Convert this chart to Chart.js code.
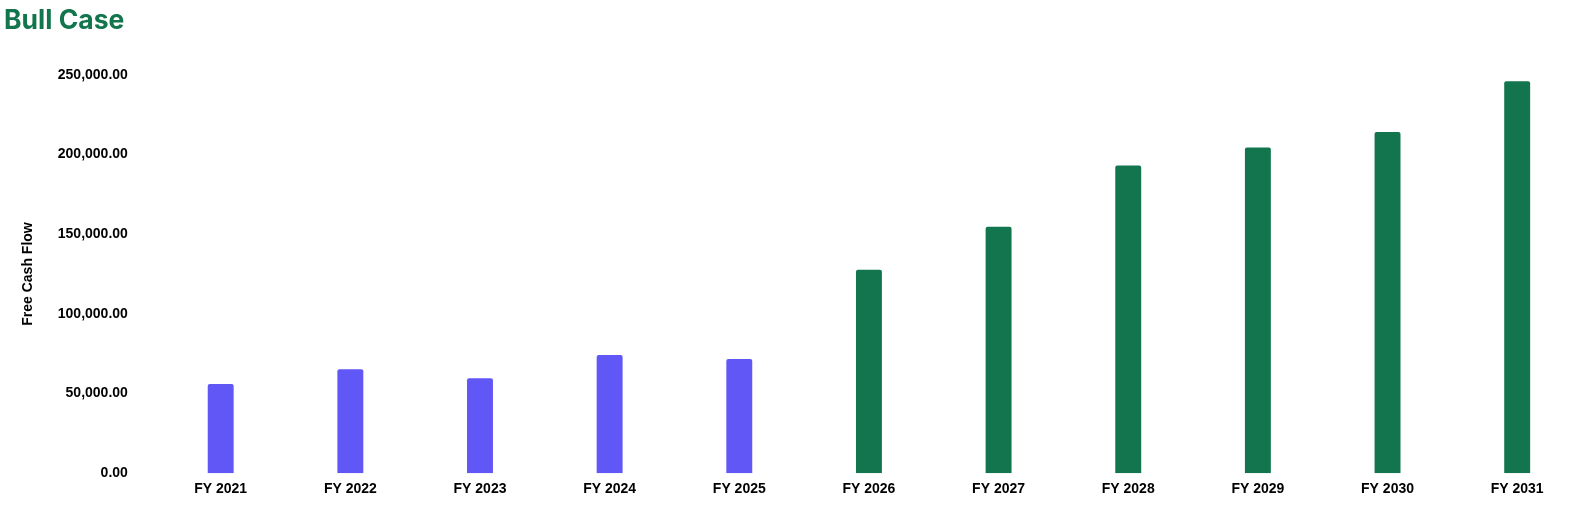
<!DOCTYPE html>
<html>
<head>
<meta charset="utf-8">
<script src="https://cdn.jsdelivr.net/npm/chart.js@4"></script>
<style>
  html, body { margin: 0; padding: 0; background: #fff; }
  #wrap { width: 1591px; height: 512px; }
</style>
</head>
<body>
<div id="wrap"><canvas id="myChart"></canvas></div>
<script>
const years = ['FY 2021', 'FY 2022', 'FY 2023', 'FY 2024', 'FY 2025', 'FY 2026', 'FY 2027', 'FY 2028', 'FY 2029', 'FY 2030', 'FY 2031'];
const freeCashFlow = [56000, 65300, 59600, 74100, 71600, 127600, 154700, 193100, 204400, 214100, 246000];
const historicCount = 5; // first 5 years are actuals, rest projected
const purple = '#6157f6';
const green = '#13754e';

const barColors = freeCashFlow.map((v, i) => i < historicCount ? purple : green);

const fmt = (n) => n.toLocaleString('en-US', { minimumFractionDigits: 2, maximumFractionDigits: 2 });
const axisFont = { family: 'Liberation Sans', size: 14, weight: 'bold' };

const data = {
    labels: years,
    datasets: [{
        label: 'Free Cash Flow',
        data: freeCashFlow,
        backgroundColor: barColors,
        borderRadius: 2,
        borderSkipped: 'bottom',
        categoryPercentage: 1,
        barPercentage: 0.2
    }]
};

const config = {
    type: 'bar',
    data: data,
    options: {
        responsive: true,
        maintainAspectRatio: false,
        animation: false,
        layout: { padding: { left: 4, right: 9, top: 0, bottom: 14 } },
        plugins: {
            legend: { display: false },
            tooltip: { enabled: false },
            title: {
                display: true,
                text: 'Bull Case',
                align: 'start',
                color: green,
                font: { family: 'Inter', size: 26.5, weight: 'bold' },
                padding: { top: 5, bottom: 38 }
            }
        },
        scales: {
            x: {
                grid: { display: false },
                border: { display: false },
                ticks: {
                    color: '#000',
                    padding: 0,
                    font: axisFont
                }
            },
            y: {
                min: 0,
                max: 250000,
                grid: { display: false },
                border: { display: false },
                ticks: {
                    stepSize: 50000,
                    color: '#000',
                    padding: 20,
                    font: axisFont,
                    callback: (v) => fmt(v)
                },
                title: {
                    display: true,
                    text: 'Free Cash Flow',
                    color: '#000',
                    padding: { top: 16, bottom: 1 },
                    font: axisFont
                }
            }
        }
    }
};

new Chart(document.getElementById('myChart'), config);
</script>
</body>
</html>
